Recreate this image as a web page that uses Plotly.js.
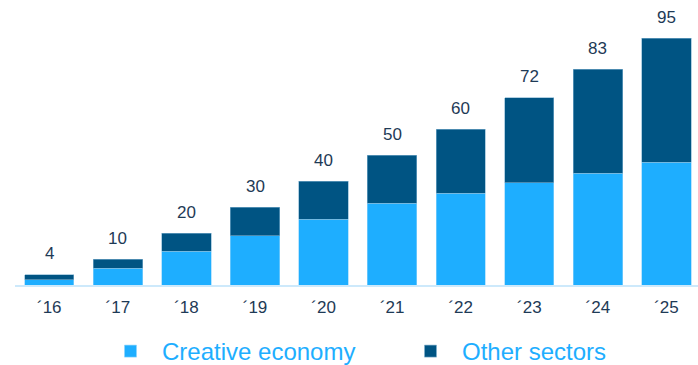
<!DOCTYPE html>
<html>
<head>
<meta charset="utf-8">
<script src="https://cdn.plot.ly/plotly-3.0.1.min.js"></script>
<style>html,body{margin:0;padding:0;background:#fff;}#chart{width:698px;height:365px;}</style>
</head>
<body>
<div id="chart"></div>
<script>
var categories = ['´16','´17','´18','´19','´20','´21','´22','´23','´24','´25'];
var creativeEconomy = [2.1, 6.5, 12.9, 19, 25.3, 31.4, 35.2, 39.3, 42.9, 47.3];
var otherSectors = [1.9, 3.5, 7.1, 11, 14.7, 18.6, 24.8, 32.7, 40.1, 47.7];
var totals = [4, 10, 20, 30, 40, 50, 60, 72, 83, 95];
var seriesNames = ['Creative economy', 'Other sectors'];

var lightBlue = '#1EAEFF';
var darkBlue = '#005483';
var navy = '#1E3A56';
var font = 'Liberation Sans, Arial, sans-serif';

var traces = [
  {type:'bar', x:categories, y:creativeEconomy, name:seriesNames[0], legend:'legend',
   marker:{color:lightBlue, line:{color:'#8fd3fb', width:0.6}}, hoverinfo:'skip'},
  {type:'bar', x:categories, y:otherSectors, name:seriesNames[1], legend:'legend2',
   marker:{color:darkBlue, line:{color:'#7fb0cf', width:0.6}}, hoverinfo:'skip'}
];

var annotations = categories.map(function(c, i){
  return {x:c, y:totals[i], text:String(totals[i]), showarrow:false,
          xref:'x', yref:'y', yanchor:'middle', yshift:21,
          font:{family:font, size:17, color:navy}};
});

function legendAt(xpx, ypx){
  return {orientation:'h', xref:'container', yref:'container',
          x:xpx/698, xanchor:'left', y:1 - ypx/365, yanchor:'middle',
          itemwidth:53, bgcolor:'rgba(0,0,0,0)',
          font:{family:font, size:24, color:lightBlue}};
}

var layout = {
  width:698, height:365,
  margin:{l:15, r:0, t:25, b:80},
  barmode:'stack', bargap:0.28,
  paper_bgcolor:'#fff', plot_bgcolor:'#fff',
  font:{family:font},
  xaxis:{type:'category', range:[-0.5, 9.46], showgrid:false, zeroline:false,
         showline:true, linecolor:'#cde9fb', linewidth:2, ticks:'',
         tickfont:{family:font, size:17, color:navy}, ticklabelstandoff:6},
  yaxis:{range:[0,100], visible:false, showgrid:false, zeroline:false},
  showlegend:true,
  legend:legendAt(99, 351.5),
  legend2:legendAt(399, 351.5),
  annotations:annotations
};

Plotly.newPlot('chart', traces, layout, {displayModeBar:false, staticPlot:true});
</script>
</body>
</html>
